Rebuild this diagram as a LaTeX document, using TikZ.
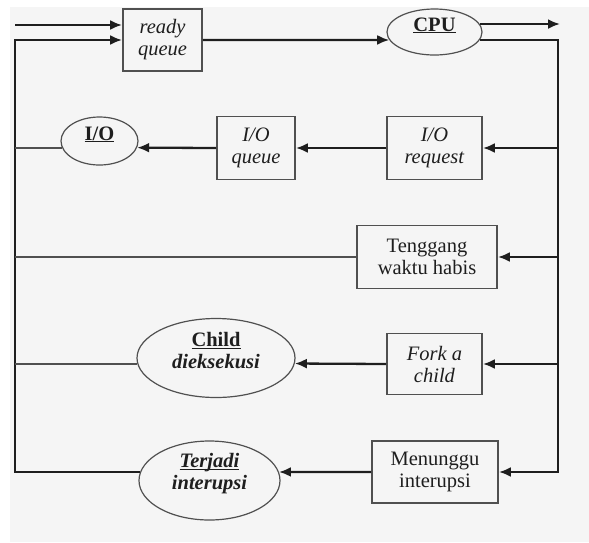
\documentclass[tikz,border=0pt]{standalone}
\usepackage{fontspec}
\setmainfont{Liberation Serif}
\usetikzlibrary{shapes.geometric,arrows.meta}
\definecolor{bggray}{RGB}{245,245,245}
\definecolor{inkgray}{RGB}{30,30,30}
\definecolor{edgegray}{RGB}{80,80,80}
\newcommand{\ulbase}[1]{\underline{\smash{#1}}}
\begin{document}
\begin{tikzpicture}[x=1pt, y=-1pt,
    every node/.style={font=\fontsize{20.5}{22}\selectfont, align=center, inner sep=0pt, text=inkgray},
    box/.style={rectangle, draw=edgegray, line width=1.8pt},
    oval/.style={ellipse, draw=edgegray, line width=1.2pt},
    arr/.style={draw=inkgray, line width=2.3pt, -{Latex[length=12pt,width=10pt]}},
    plain/.style={draw=edgegray, line width=2pt}]
            % Background
            \fill[white] (0,0) rectangle (589,542);
            \fill[bggray] (10,7) rectangle (589,542);

            % Nodes
            \node[box, minimum width=79pt, minimum height=62pt] (ready) at (162.5,40) {\textit{ready}\\\textit{queue}};
            \node[oval, minimum width=95pt, minimum height=46pt] (cpu) at (434.5,32) {\textbf{\ulbase{CPU}}};
            \node[oval, minimum width=77pt, minimum height=48pt] (io) at (99.5,141) {\textbf{\ulbase{I/O}}};
            \node[box, minimum width=78pt, minimum height=63pt] (ioq) at (256,148) {\textit{I/O}\\\textit{queue}};
            \node[box, minimum width=95pt, minimum height=63pt] (ioreq) at (434.5,148) {\textit{I/O}\\\textit{request}};
            \node[box, minimum width=140pt, minimum height=63pt] (timeout) at (427,257) {Tenggang\\waktu habis};
            \node[box, minimum width=95pt, minimum height=61pt] (fork) at (434.5,364) {\textit{Fork a}\\\textit{child}};
            \node[oval, minimum width=158pt, minimum height=79pt] (child) at (216,358) {\textbf{\ulbase{Child}}\\\textbf{\textit{dieksekusi}}};
            \node[box, minimum width=126pt, minimum height=62pt] (wait) at (435,472) {Menunggu\\interupsi};
            \node[oval, minimum width=141pt, minimum height=79pt] (irq) at (209.5,480.5) {\textbf{\textit{\ulbase{Terjadi}}}\\\textbf{\textit{interupsi}}};

            % Corners of the two rails
            \coordinate (newin) at (15,25);
            \coordinate (exit) at (560,25);
            \coordinate (lrail) at (15,40);
            \coordinate (rrail) at (558,40);

            % Edges
            \draw[arr] (newin) -- (newin -| ready.west);
            \draw[arr] (ready.east) -- (cpu.190);
            \draw[arr] (cpu.10) -- (cpu.10 -| exit);
            \draw[arr] (cpu.-10) -- (cpu.-10 -| rrail) -- (wait.east -| rrail) -- (wait.east);
            \foreach \n in {ioreq,timeout,fork} {
                \draw[arr] (\n.east -| rrail) -- (\n.east);
            }
            \draw[arr] (ioreq.west) -- (ioq.east);
            \draw[arr] (ioq.west) -- (io.-10);
            \draw[arr] (fork.west) -- (child.-4.5);
            \draw[arr] (wait.west) -- (irq.7);

            % Back to the ready queue
            \draw[arr] (irq.173) -- (irq.173 -| lrail) -- (lrail) -- (ready.west);
            \draw[plain] (io.190) -- (io.190 -| lrail);
            \draw[plain] (timeout.west) -- (timeout.west -| lrail);
            \draw[plain] (child.184.5) -- (child.184.5 -| lrail);
\end{tikzpicture}
\end{document}
